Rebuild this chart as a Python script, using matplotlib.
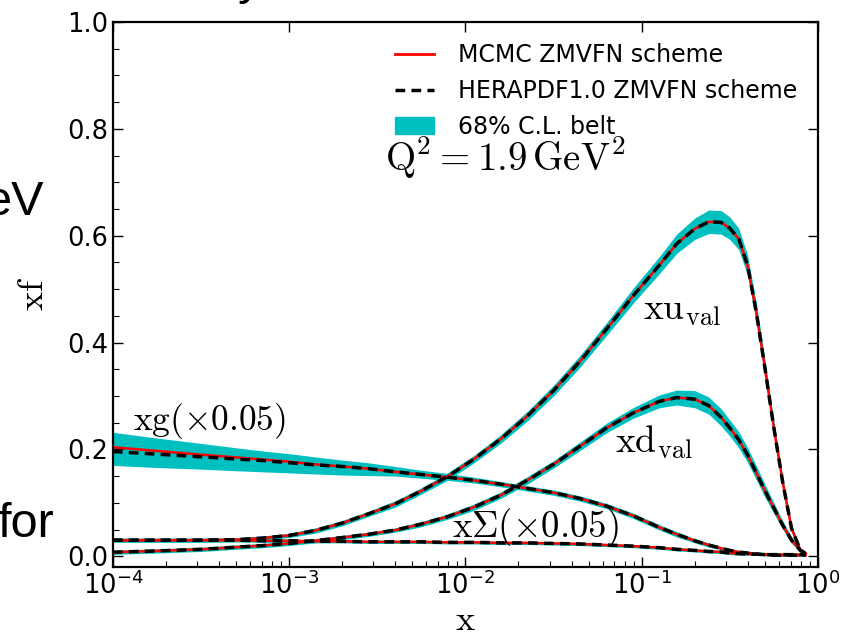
import numpy as np
import matplotlib
matplotlib.use("Agg")
import matplotlib.pyplot as plt
from matplotlib.lines import Line2D
from matplotlib.patches import Patch

plt.rcParams['mathtext.fontset'] = 'cm'

# x grid shared by all curves
x = np.array([1.0e-4, 1.8e-4, 3.2e-4, 5.0e-4, 7.1e-4, 1.0e-3, 1.4e-3, 2.0e-3,
              2.8e-3, 4.0e-3, 5.6e-3, 7.9e-3, 1.12e-2, 1.58e-2, 2.24e-2, 3.16e-2,
              4.47e-2, 6.31e-2, 8.91e-2, 0.126, 0.158, 0.2, 0.24, 0.282, 0.316,
              0.355, 0.398, 0.447, 0.501, 0.562, 0.631, 0.708, 0.794, 0.85])

# xu_val, central value and half width of the 68% belt
xu = np.array([0.030, 0.030, 0.030, 0.031, 0.034, 0.039, 0.048, 0.062, 0.079,
               0.098, 0.122, 0.149, 0.182, 0.219, 0.262, 0.310, 0.365, 0.425,
               0.487, 0.545, 0.585, 0.613, 0.626, 0.625, 0.614, 0.594, 0.545,
               0.456, 0.350, 0.240, 0.138, 0.052, 0.012, 0.005])
xu_err = np.array([0.004, 0.004, 0.004, 0.004, 0.004, 0.004, 0.005, 0.005, 0.005,
                   0.006, 0.006, 0.007, 0.007, 0.008, 0.009, 0.010, 0.011, 0.012,
                   0.014, 0.016, 0.018, 0.020, 0.022, 0.022, 0.021, 0.020, 0.019,
                   0.018, 0.016, 0.013, 0.010, 0.007, 0.003, 0.002])

# xd_val
xd = np.array([0.0075, 0.010, 0.013, 0.017, 0.020, 0.024, 0.029, 0.035, 0.041,
               0.049, 0.060, 0.074, 0.092, 0.114, 0.142, 0.172, 0.206, 0.240,
               0.268, 0.290, 0.297, 0.294, 0.282, 0.260, 0.240, 0.218, 0.190,
               0.156, 0.122, 0.090, 0.058, 0.030, 0.011, 0.005])
xd_err = np.array([0.004, 0.004, 0.004, 0.004, 0.004, 0.004, 0.004, 0.004, 0.004,
                   0.004, 0.005, 0.005, 0.006, 0.006, 0.007, 0.007, 0.008, 0.009,
                   0.010, 0.012, 0.014, 0.016, 0.016, 0.016, 0.015, 0.015, 0.014,
                   0.013, 0.012, 0.010, 0.008, 0.006, 0.003, 0.002])

# xSigma (x0.05)
xs = np.array([0.030, 0.030, 0.030, 0.030, 0.029, 0.029, 0.028, 0.028, 0.027,
               0.027, 0.027, 0.026, 0.026, 0.025, 0.025, 0.024, 0.023, 0.021,
               0.019, 0.016, 0.013, 0.011, 0.009, 0.008, 0.006, 0.005, 0.004,
               0.004, 0.003, 0.003, 0.003, 0.003, 0.003, 0.003])
xs_err = np.array([0.003] * 26 + [0.002] * 8)

# xg (x0.05): MCMC and HERAPDF part at small x
xg = np.array([0.204, 0.197, 0.190, 0.185, 0.181, 0.177, 0.172, 0.168, 0.164,
               0.158, 0.153, 0.148, 0.142, 0.135, 0.127, 0.119, 0.108, 0.094,
               0.076, 0.054, 0.041, 0.029, 0.021, 0.015, 0.011, 0.008, 0.006,
               0.004, 0.003, 0.002, 0.002, 0.002, 0.002, 0.002])
xg_hera = np.array([0.196, 0.191, 0.186, 0.182, 0.179, 0.175, 0.171, 0.168, 0.164,
                    0.158, 0.153, 0.148, 0.142, 0.135, 0.127, 0.119, 0.108, 0.094,
                    0.076, 0.054, 0.041, 0.029, 0.021, 0.015, 0.011, 0.008, 0.006,
                    0.004, 0.003, 0.002, 0.002, 0.002, 0.002, 0.002])
xg_lo = np.array([0.170, 0.166, 0.163, 0.160, 0.158, 0.156, 0.154, 0.152, 0.151,
                  0.150, 0.146, 0.142, 0.137, 0.130, 0.122, 0.114, 0.103, 0.089,
                  0.071, 0.049, 0.036, 0.025, 0.017, 0.012, 0.008, 0.005, 0.003,
                  0.002, 0.001, 0.000, 0.000, 0.000, 0.000, 0.000])
xg_hi = np.array([0.232, 0.221, 0.211, 0.203, 0.197, 0.192, 0.186, 0.180, 0.175,
                  0.168, 0.161, 0.155, 0.148, 0.140, 0.132, 0.124, 0.113, 0.099,
                  0.081, 0.059, 0.046, 0.033, 0.025, 0.018, 0.014, 0.011, 0.009,
                  0.007, 0.005, 0.004, 0.004, 0.004, 0.004, 0.004])

band_c = (0.0, 0.75, 0.75)

fig = plt.figure(figsize=(8.42, 6.37), dpi=100)
ax = fig.add_axes([0.134, 0.110, 0.8375, 0.8555])

ax.fill_between(x, xg_lo, xg_hi, color=band_c, lw=0)
for c, e in [(xs, xs_err), (xd, xd_err), (xu, xu_err)]:
    ax.fill_between(x, c - e, c + e, color=band_c, lw=0)

for c in [xg, xs, xd, xu]:
    ax.plot(x, c, color='red', lw=1.8, solid_joinstyle='round')
for c in [xg_hera, xs, xd, xu]:
    ax.plot(x, c, color='black', lw=2.5, dashes=(2.8, 1.8), dash_joinstyle='round')

ax.set_xscale('log')
ax.set_xlim(1e-4, 1)
ax.set_ylim(-0.02, 1.0)
ax.set_yticks([0.0, 0.2, 0.4, 0.6, 0.8, 1.0])
ax.set_yticks(np.arange(0, 1.0, 0.05), minor=True)
ax.tick_params(which='major', direction='in', top=True, right=True,
               labelsize=18.5, length=7, width=1)
ax.tick_params(which='minor', direction='in', top=False, right=False,
               length=4, width=0.8)
for s in ax.spines.values():
    s.set_linewidth(1.6)

ax.set_xlabel(r'$\mathrm{x}$', fontsize=26, labelpad=2)
ax.set_ylabel(r'$\mathrm{xf}$', fontsize=26, labelpad=12)

ax.text(0.169, 0.46, r'$\mathrm{xu}_{\mathrm{val}}$', fontsize=27, ha='center', va='center')
ax.text(0.117, 0.213, r'$\mathrm{xd}_{\mathrm{val}}$', fontsize=27, ha='center', va='center')
ax.text(0.0248, 0.054, r'$\mathrm{x\Sigma}(\times0.05)$', fontsize=26.5, ha='center', va='center')
ax.text(3.55e-4, 0.254, r'$\mathrm{xg}(\times0.05)$', fontsize=25.5, ha='center', va='center')
ax.text(0.0035, 0.746, r'$\mathrm{Q^2 = 1.9\,GeV^2}$', fontsize=28, ha='left', va='center')

handles = [Line2D([], [], color='red', lw=2),
           Line2D([], [], color='black', lw=2.5, dashes=(2.8, 1.8)),
           Patch(color=band_c)]
labels = ['MCMC ZMVFN scheme', 'HERAPDF1.0 ZMVFN scheme', '68% C.L. belt']
ax.legend(handles, labels, loc='upper left', bbox_to_anchor=(0.37, 1.0),
          frameon=False, fontsize=17, handlelength=1.65, handletextpad=1.0,
          labelspacing=0.5)

# fragments of the surrounding slide text
fig.text(-15 / 842, 1 - 215 / 637, 'eV', fontsize=35, family='Liberation Sans', va='baseline')
fig.text(-3 / 842, 1 - 537 / 637, 'for', fontsize=35, family='Liberation Sans', va='baseline')
fig.text(238 / 842, 1 + 6 / 637, 'y', fontsize=35, family='Liberation Sans', va='baseline')

fig.savefig('out.png', dpi=100)
